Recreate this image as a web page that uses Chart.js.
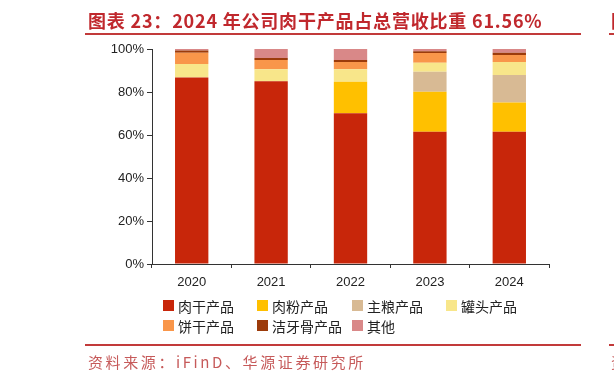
<!DOCTYPE html>
<html>
<head>
<meta charset="utf-8">
<script src="https://cdn.jsdelivr.net/npm/chart.js@4"></script>
<style>
  html, body { margin: 0; padding: 0; background: #fff; }
  body { width: 614px; height: 384px; position: relative; overflow: hidden; font-family: "Noto Sans CJK SC", sans-serif; }
  #wrap { position: absolute; left: 0; top: 0; width: 614px; height: 384px; }
  .title { position: absolute; left: 88px; top: 7px; font-size: 18px; font-weight: 700; color: #C0282D; letter-spacing: 0.8px; white-space: nowrap; }
  .rule { position: absolute; height: 2px; background: #C23A3A; }
  .source { position: absolute; left: 88px; top: 351px; font-size: 15px; color: #C65A5A; letter-spacing: 2.6px; white-space: nowrap; }
  .legend { position: absolute; font-size: 14px; color: #222; white-space: nowrap; }
  .legend span.box { position: absolute; width: 11px; height: 11px; }
  .legend span.txt { position: absolute; line-height: 20px; }
</style>
</head>
<body>
<div id="wrap"><canvas id="chart" width="614" height="384"></canvas></div>
<div class="title">图表 23：2024 年公司肉干产品占总营收比重 61.56%</div>
<div class="title" style="left:611px">图</div>
<div class="rule" style="left:85px; top:33px; width:496px"></div>
<div class="rule" style="left:609px; top:33px; width:5px"></div>
<div class="rule" style="left:85px; top:344px; width:496px"></div>
<div class="rule" style="left:609px; top:344px; width:5px"></div>
<div class="source">资料来源：iFinD、华源证券研究所</div>
<div class="source" style="left:611px">资</div>
<div id="legend"></div>

<script>
const years = ['2020', '2021', '2022', '2023', '2024'];
const seriesNames = ['肉干产品', '肉粉产品', '主粮产品', '罐头产品', '饼干产品', '洁牙骨产品', '其他'];
const meatJerky = [86.8, 85.0, 70.1, 61.5, 61.56];
const meatPowder = [0, 0, 14.7, 18.6, 13.6];
const stapleFood = [0, 0, 0, 9.3, 12.8];
const cannedFood = [6.2, 5.6, 5.8, 4.2, 6.0];
const biscuits = [5.3, 4.3, 3.4, 4.5, 3.3];
const dentalBones = [1.0, 0.9, 0.9, 0.9, 1.0];
const others = [0.7, 4.2, 5.1, 1.0, 1.8];
const yTicks = [0, 20, 40, 60, 80, 100];

const colors = ['#C8260A', '#FFC000', '#D8BA94', '#F8E68A', '#F9964A', '#9C3B0B', '#D98888'];
const values = [meatJerky, meatPowder, stapleFood, cannedFood, biscuits, dentalBones, others];

const datasets = seriesNames.map((name, i) => ({
    label: name,
    data: values[i],
    backgroundColor: colors[i],
    borderWidth: 0,
    categoryPercentage: 1,
    barPercentage: 0.42
}));

// legend laid out in a grid like the original
const legendPos = [[163, 306], [257, 306], [352, 306], [446, 306], [163, 326], [257, 326], [352, 326]];
const legendEl = document.getElementById('legend');
seriesNames.forEach((name, i) => {
    const d = document.createElement('div');
    d.className = 'legend';
    d.style.left = legendPos[i][0] + 'px';
    d.style.top = (legendPos[i][1] - 10) + 'px';
    d.innerHTML = '<span class="box" style="left:0;top:4px;background:' + colors[i] + '"></span>' +
        '<span class="txt" style="left:15px;top:0">' + name + '</span>';
    legendEl.appendChild(d);
});

new Chart(document.getElementById('chart'), {
    type: 'bar',
    data: { labels: years, datasets: datasets },
    options: {
        responsive: false,
        animation: false,
        layout: { padding: { left: 0, top: 49, right: 65, bottom: 0 } },
        plugins: { legend: { display: false }, tooltip: { enabled: false } },
        scales: {
            x: {
                stacked: true,
                grid: { display: true, drawOnChartArea: false, drawTicks: true, tickLength: 4, color: '#333', offset: true },
                border: { color: '#333', width: 1 },
                ticks: { color: '#222', font: { family: 'Liberation Sans, Arial', size: 13 }, padding: 7 },
                afterFit: (scale) => { scale.height = 120; }
            },
            y: {
                stacked: true,
                min: 0,
                max: 100,
                afterBuildTicks: (scale) => { scale.ticks = yTicks.map(v => ({ value: v })); },
                grid: { display: true, drawOnChartArea: false, drawTicks: true, tickLength: 5, color: '#333' },
                border: { color: '#333', width: 1 },
                ticks: {
                    color: '#222',
                    font: { family: 'Liberation Sans, Arial', size: 13 },
                    padding: 3,
                    callback: (v) => v + '%'
                },
                afterFit: (scale) => { scale.width = 152; }
            }
        }
    }
});
</script>
</body>
</html>
